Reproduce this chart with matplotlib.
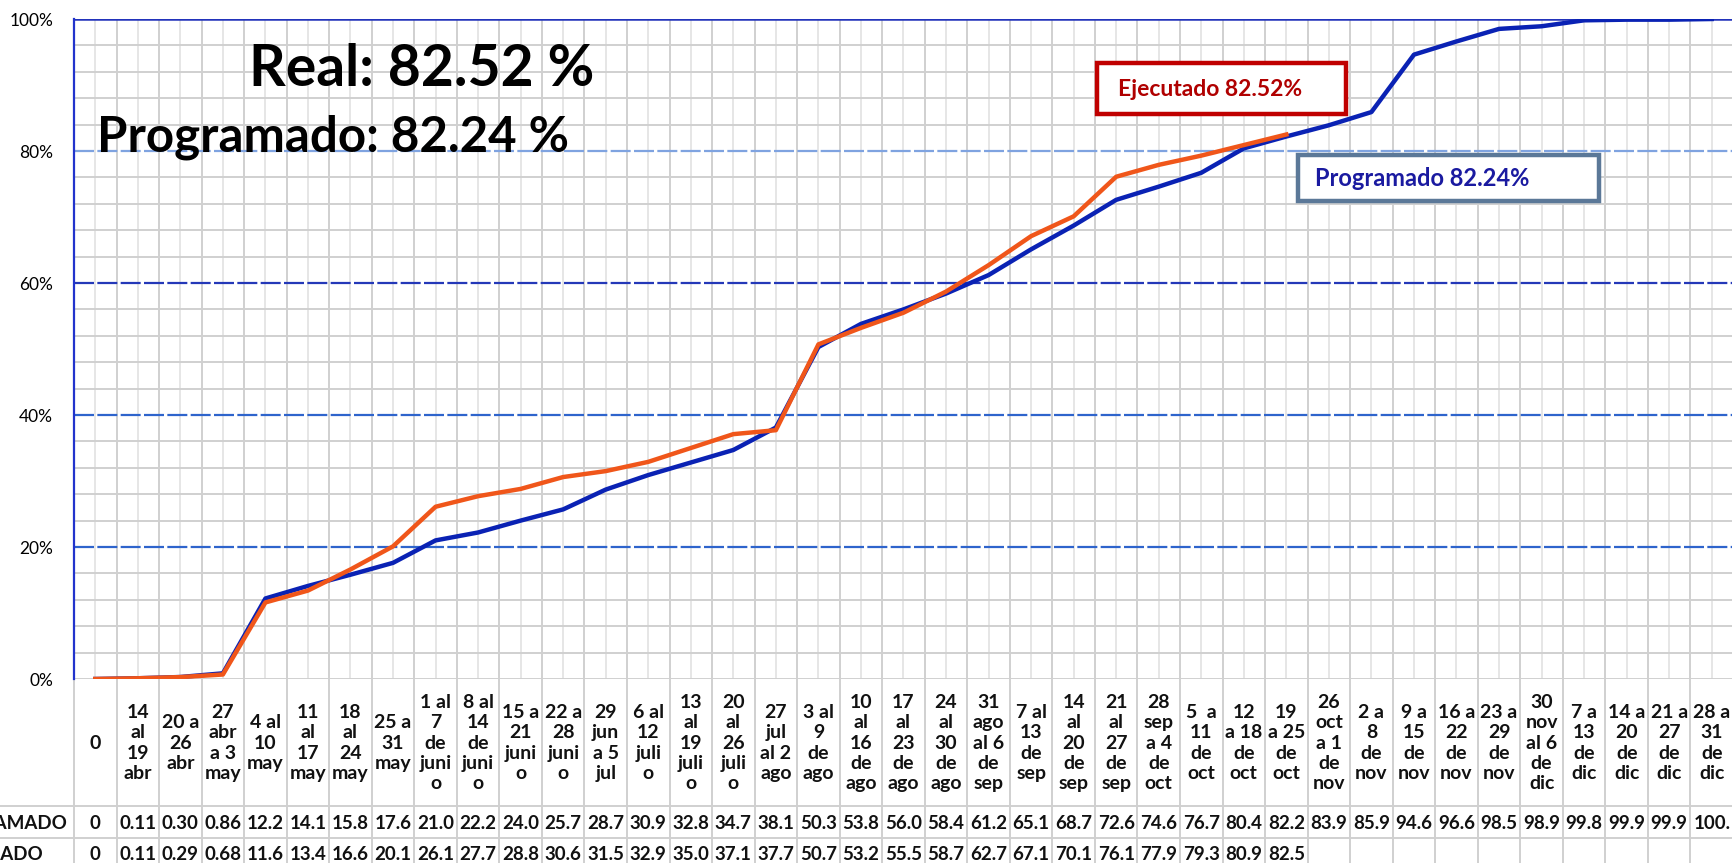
import numpy as np
import matplotlib
matplotlib.use("Agg")
import matplotlib.pyplot as plt
from matplotlib.patches import Rectangle
from matplotlib.transforms import blended_transform_factory

plt.rcParams['font.family'] = ['Lato', 'DejaVu Sans']

# weekly periods (labels wrapped as in the source table)
periods = [
    "0", "14\nal\n19\nabr", "20 a\n26\nabr", "27\nabr\na 3\nmay", "4 al\n10\nmay",
    "11\nal\n17\nmay", "18\nal\n24\nmay", "25 a\n31\nmay", "1 al\n7\nde\njuni\no",
    "8 al\n14\nde\njuni\no", "15 a\n21\njuni\no", "22 a\n28\njuni\no", "29\njun\na 5\njul",
    "6 al\n12\njuli\no", "13\nal\n19\njuli\no", "20\nal\n26\njuli\no", "27\njul\nal 2\nago",
    "3 al\n9\nde\nago", "10\nal\n16\nde\nago", "17\nal\n23\nde\nago", "24\nal\n30\nde\nago",
    "31\nago\nal 6\nde\nsep", "7 al\n13\nde\nsep", "14\nal\n20\nde\nsep", "21\nal\n27\nde\nsep",
    "28\nsep\na 4\nde\noct", "5  a\n11\nde\noct", "12\na 18\nde\noct", "19\na 25\nde\noct",
    "26\noct\na 1\nde\nnov", "2 a\n8\nde\nnov", "9 a\n15\nde\nnov", "16 a\n22\nde\nnov",
    "23 a\n29\nde\nnov", "30\nnov\nal 6\nde\ndic", "7 a\n13\nde\ndic", "14 a\n20\nde\ndic",
    "21 a\n27\nde\ndic", "28 a\n31\nde\ndic",
]
programado = [0, 0.11, 0.30, 0.86, 12.2, 14.1, 15.8, 17.6, 21.0, 22.2, 24.0, 25.7, 28.7,
              30.9, 32.8, 34.7, 38.1, 50.3, 53.8, 56.0, 58.4, 61.2, 65.1, 68.7, 72.6, 74.6,
              76.7, 80.4, 82.2, 83.9, 85.9, 94.6, 96.6, 98.5, 98.9, 99.8, 99.9, 99.9, 100.0]
ejecutado = [0, 0.11, 0.29, 0.68, 11.6, 13.4, 16.6, 20.1, 26.1, 27.7, 28.8, 30.6, 31.5,
             32.9, 35.0, 37.1, 37.7, 50.7, 53.2, 55.5, 58.7, 62.7, 67.1, 70.1, 76.1, 77.9,
             79.3, 80.9, 82.5]
prog_txt = ["0", "0.11", "0.30", "0.86"] + [f"{v:.1f}" for v in programado[4:-1]] + ["100."]
ejec_txt = ["0", "0.11", "0.29", "0.68"] + [f"{v:.1f}" for v in ejecutado[4:]]

W, H = 1733, 863
fig = plt.figure(figsize=(W / 100, H / 100), dpi=100)
x0, x1, ytop, ybot = 74, 1733, 19, 679
ax = fig.add_axes([x0 / W, 1 - ybot / H, (x1 - x0) / W, (ybot - ytop) / H])
n = len(periods)
x = np.arange(n)
ax.set_xlim(-0.5, n - 0.5)
ax.set_ylim(0, 100)

# spreadsheet-like cell grid
grey = "#D0D0D0"
for k in range(n):
    ax.axvline(k, color="#E6E6E6", lw=1.4, zorder=0)
for k in range(n + 1):
    ax.axvline(k - 0.5, color=grey, lw=1.4, zorder=0)
for v in range(4, 100, 4):
    if v % 20:
        ax.axhline(v, color=grey, lw=1.4, zorder=0)
ax.axhline(0, color=grey, lw=1.4, zorder=0)
major = {20: "#2E64CC", 40: "#2E64CC", 60: "#2438B8", 80: "#7FA3E0"}
for v, c in major.items():
    ax.axhline(v, color=c, lw=1.6, ls=(0, (9, 1.5)), zorder=1)
ax.axhline(100, color="#2233BB", lw=1.8, zorder=1)

for s in ["top", "bottom", "right"]:
    ax.spines[s].set_visible(False)
ax.spines["left"].set_color("#2233CC")
ax.spines["left"].set_linewidth(1.6)
ax.set_yticks(range(0, 101, 20))
ax.set_yticklabels([f"{v}%" for v in range(0, 101, 20)], fontsize=12.5)
ax.set_xticks([])
ax.tick_params(axis="y", length=0, pad=15)

ax.plot(x, programado, color="#0A22B4", lw=3.2, zorder=3, solid_joinstyle="round")
ax.plot(x[:len(ejecutado)], ejecutado, color="#F0561A", lw=3.2, zorder=4,
        solid_joinstyle="round")

# data table under the chart
tr = blended_transform_factory(ax.transData, ax.transAxes)
def ay(py):
    return (ybot - py) / (ybot - ytop)

ax.vlines(np.arange(n + 1) - 0.5, ay(900), 0, transform=tr, color=grey,
          lw=1.4, clip_on=False, zorder=0)
for py in (806, 838):
    ax.plot([-5, n - 0.5], [ay(py)] * 2, transform=tr, color=grey, lw=1.4,
            clip_on=False, zorder=0)
for k in range(n):
    ax.text(k, ay(743), periods[k], transform=tr, ha="center", va="center",
            fontsize=14, fontweight="bold", linespacing=1.22, color="#111111")
    ax.text(k, ay(823), prog_txt[k], transform=tr, ha="center", va="center",
            fontsize=13.5, fontweight="bold", color="#111111")
for k, t in enumerate(ejec_txt):
    ax.text(k, ay(854), t, transform=tr, ha="center", va="center",
            fontsize=13.5, fontweight="bold", color="#111111")
fig.text(67 / W, 1 - 823 / H, "PROGRAMADO", ha="right", va="center",
         fontsize=13.5, fontweight="bold", color="#111111")
fig.text(43 / W, 1 - 854 / H, "EJECUTADO", ha="right", va="center",
         fontsize=13.5, fontweight="bold", color="#111111")

# headline values
fig.text(249 / W, 1 - 86 / H, "Real: 82.52 %", ha="left", va="baseline",
         fontsize=41, fontweight="bold", color="black")
fig.text(97 / W, 1 - 152 / H, "Programado: 82.24 %", ha="left", va="baseline",
         fontsize=35.5, fontweight="bold", color="black")

# callout boxes
fig.patches.append(Rectangle((1097 / W, 1 - 114 / H), 249 / W, 51 / H,
                             transform=fig.transFigure, facecolor="white",
                             edgecolor="#C00000", lw=3.2, zorder=5))
fig.text(1118 / W, 1 - 89 / H, "Ejecutado 82.52%", ha="left", va="center",
         fontsize=16.5, fontweight="bold", color="#B00000", zorder=6)
fig.patches.append(Rectangle((1298 / W, 1 - 201 / H), 301 / W, 46 / H,
                             transform=fig.transFigure, facecolor="white",
                             edgecolor="#5B7898", lw=3.2, zorder=5))
fig.text(1315 / W, 1 - 178 / H, "Programado 82.24%", ha="left", va="center",
         fontsize=17, fontweight="bold", color="#1A1AA0", zorder=6)

fig.savefig("out.png", dpi=100)
